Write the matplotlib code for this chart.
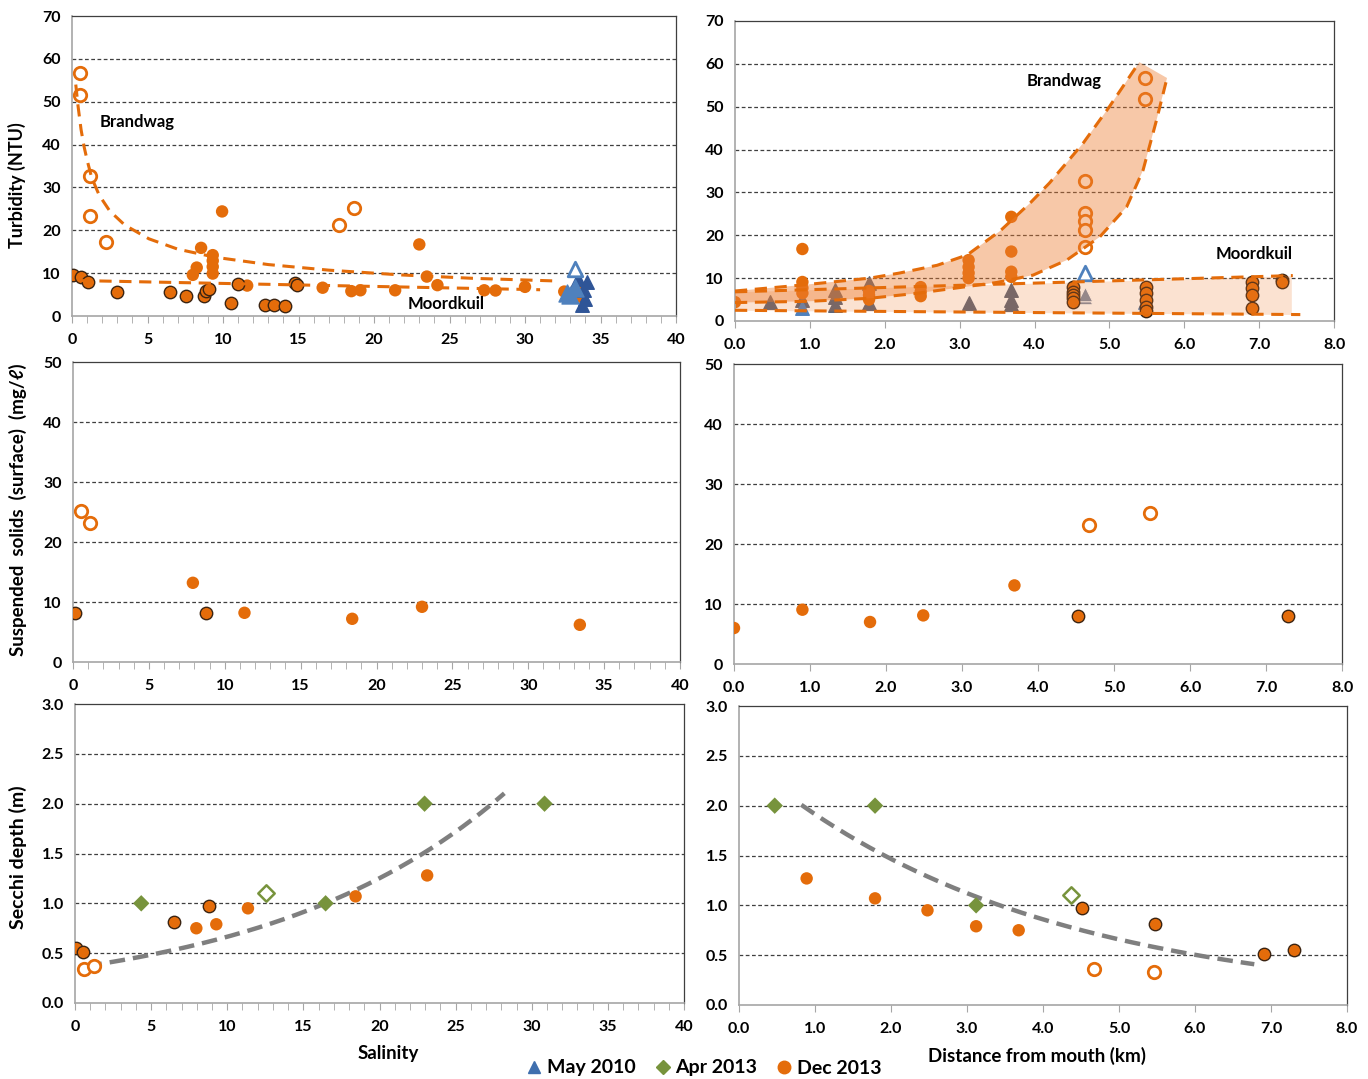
import matplotlib
matplotlib.use("Agg")
import matplotlib.pyplot as plt
import numpy as np
from matplotlib.lines import Line2D
from matplotlib.ticker import MultipleLocator

plt.rcParams['font.family'] = ['Lato', 'DejaVu Sans']
plt.rcParams['font.weight'] = 'bold'

# ---------------- colours ----------------
ORANGE = '#e46c0a'
FILL_OR = '#ed7d31'
EDGE_DARK = '#3b2412'
GREEN = '#77933c'
BLUE = '#4f81bd'
NAVY = '#2f5597'
SLATE = '#596275'
SLATE_LT = '#7d8aa3'
GREY = '#7f7f7f'

# ---------------- Turbidity vs salinity ----------------
tl_sal_open = [0.53, 0.53, 1.2, 1.2, 2.22, 17.7, 18.7]
tl_turb_open = [56.6, 51.5, 32.6, 23.3, 17.2, 21.2, 25.3]

tl_sal_fill = [9.94, 8.55, 9.32, 9.32, 9.32, 9.32, 8.26, 8.0, 11.6, 16.6, 18.5,
               19.1, 21.4, 23.0, 23.5, 24.2, 27.3, 28.05, 30.0, 32.6, 33.4, 33.7]
tl_turb_fill = [24.4, 15.9, 14.2, 12.9, 11.5, 9.9, 11.3, 9.6, 7.1, 6.6, 5.8,
                6.0, 6.0, 16.7, 9.2, 7.2, 6.0, 5.95, 6.8, 5.7, 6.1, 4.5]

tl_sal_edge = [0.09, 0.6, 1.04, 3.0, 6.48, 7.55, 8.75, 8.9, 9.08, 10.5, 11.0,
               12.76, 13.4, 14.1, 14.8, 14.9]
tl_turb_edge = [9.5, 9.2, 8.0, 5.6, 5.6, 4.6, 4.7, 5.9, 6.4, 3.0, 7.4,
                2.6, 2.6, 2.4, 7.6, 7.3]

tl_sal_tri_navy = [34.1, 33.9, 33.95, 33.8, 33.5]
tl_turb_tri_navy = [7.9, 6.0, 3.9, 2.6, 8.6]
tl_sal_tri_blue = [32.8, 33.3, 33.0]
tl_turb_tri_blue = [5.4, 6.5, 4.8]
tl_sal_tri_open = [33.3]
tl_turb_tri_open = [10.9]

# Brandwag trend (salinity, NTU) and Moordkuil linear trend y = c0 + c1*x
brandwag_sal = [0.25, 0.4, 0.6, 0.8, 1.0, 1.3, 1.8, 2.5, 3.5, 5.1, 7.0, 9.5,
                13.0, 17.0, 21.7, 26.5, 31.8]
brandwag_ntu = [54.0, 49.0, 43.5, 39.5, 36.4, 32.3, 28.2, 24.5, 21.2, 18.0, 15.6,
                13.7, 12.0, 10.7, 9.6, 8.8, 8.2]
moordkuil_c0, moordkuil_c1 = 8.3, -0.07
moordkuil_range = (0.5, 31.0)

# ---------------- Turbidity vs distance ----------------
tr_d_fill = [0.0, 0.9, 0.9, 0.9, 0.9, 1.79, 1.79, 1.79, 2.48, 2.48, 2.48,
             3.12, 3.12, 3.12, 3.12, 3.69, 3.69, 3.69, 3.69]
tr_v_fill = [4.4, 16.8, 9.1, 7.7, 6.5, 7.0, 6.0, 5.0, 7.9, 6.8, 5.8,
             14.2, 12.6, 11.2, 10.0, 24.3, 16.2, 11.5, 10.3]
tr_d_edge = [4.52] * 5 + [5.49] * 5 + [6.9] * 4 + [7.3] * 2
tr_v_edge = [8.0, 6.8, 6.1, 5.3, 4.5, 8.0, 6.5, 4.9, 3.3, 2.4,
             9.2, 7.6, 6.1, 3.0, 9.6, 9.1]
tr_d_open = [4.67] * 5 + [5.47] * 2
tr_v_open = [32.7, 25.2, 23.3, 21.3, 17.2, 56.7, 51.7]
tr_d_tri = [0.47, 0.9, 1.33, 1.33, 1.33, 1.79, 1.79, 3.12, 3.69, 3.69, 3.69]
tr_v_tri = [4.4, 4.9, 7.2, 5.6, 3.7, 8.9, 4.2, 4.1, 7.2, 4.9, 4.0]
tr_d_tri_blue = [0.9, 5.47]
tr_v_tri_blue = [3.0, 4.5]
tr_d_tri_lt = [4.67, 4.67]
tr_v_tri_lt = [5.7, 6.4]
tr_d_tri_open = [4.67]
tr_v_tri_open = [11.1]

# envelope outlines (distance km, turbidity NTU)
brandwag_upper_d = [0.0, 0.9, 1.8, 2.2, 2.7, 3.1, 3.54, 3.94, 4.2, 4.65, 5.0, 5.4]
brandwag_upper_v = [7.0, 8.4, 10.0, 11.2, 13.0, 15.4, 21.0, 27.5, 32.2, 41.5, 50.0, 60.4]
brandwag_lower_d = [0.0, 1.0, 1.8, 2.4, 3.0, 3.5, 3.98, 4.43, 4.87, 5.23, 5.45, 5.63, 5.77]
brandwag_lower_v = [4.3, 4.6, 5.3, 6.4, 7.8, 9.0, 10.7, 14.2, 19.6, 26.6, 35.2, 46.9, 56.7]
moordkuil_upper_d = [0.0, 7.45]
moordkuil_upper_v = [6.8, 10.6]
moordkuil_lower_d = [0.0, 7.55]
moordkuil_lower_v = [2.5, 1.5]
moordkuil_fill_end = 7.43

# ---------------- Suspended solids ----------------
ml_sal_fill = [7.9, 11.3, 18.4, 23.0, 33.4]
ml_ss_fill = [13.2, 8.2, 7.2, 9.2, 6.2]
ml_sal_edge = [0.12, 8.75]
ml_ss_edge = [8.2, 8.2]
ml_sal_open = [0.52, 1.13]
ml_ss_open = [25.1, 23.1]

mr_d_fill = [0.0, 0.9, 1.79, 2.49, 3.69]
mr_ss_fill = [6.0, 9.05, 7.0, 8.1, 13.1]
mr_d_edge = [4.52, 7.29]
mr_ss_edge = [8.0, 8.0]
mr_d_open = [4.67, 5.47]
mr_ss_open = [23.1, 25.1]

# ---------------- Secchi depth ----------------
bl_sal_fill = [7.97, 9.28, 11.36, 18.43, 23.13]
bl_sec_fill = [0.75, 0.79, 0.95, 1.07, 1.28]
bl_sal_edge = [0.09, 0.52, 6.52, 8.78]
bl_sec_edge = [0.55, 0.51, 0.81, 0.97]
bl_sal_open = [0.58, 1.22]
bl_sec_open = [0.34, 0.37]
bl_sal_dia = [4.35, 16.46, 22.96, 30.84]
bl_sec_dia = [1.0, 1.0, 2.0, 2.0]
bl_sal_dia_open = [12.52]
bl_sec_dia_open = [1.10]
secchi_sal_a, secchi_sal_b = 0.353, 0.0633
secchi_sal_range = (0.75, 28.2)

br_d_fill = [0.89, 1.79, 2.48, 3.12, 3.68]
br_sec_fill = [1.27, 1.07, 0.95, 0.79, 0.75]
br_d_edge = [4.51, 5.48, 6.91, 7.3]
br_sec_edge = [0.97, 0.81, 0.51, 0.55]
br_d_open = [4.67, 5.46]
br_sec_open = [0.36, 0.335]
br_d_dia = [0.47, 1.79, 3.12]
br_sec_dia = [2.0, 2.0, 1.0]
br_d_dia_open = [4.37]
br_sec_dia_open = [1.10]
secchi_dist_a, secchi_dist_b = 2.50, -0.267
secchi_dist_range = (0.82, 6.78)

legend_labels = ['May 2010', 'Apr 2013', 'Dec 2013']

# ---------------- figure ----------------
fig = plt.figure(figsize=(13.68, 10.79), dpi=100)
W, H = 1368.0, 1079.0
TICK_FS = 11.5


def add_axes(x0, x1, ytop, ybot):
    return fig.add_axes([x0 / W, 1 - ybot / H, (x1 - x0) / W, (ybot - ytop) / H])


def style(ax, xlim, xticks, xfmt, ylim, yticks, yfmt, minor=None):
    ax.set_xlim(*xlim)
    ax.set_ylim(*ylim)
    ax.set_xticks(xticks)
    ax.set_xticklabels([xfmt.format(t) for t in xticks], fontsize=TICK_FS, fontweight='bold')
    ax.set_yticks(yticks)
    ax.set_yticklabels([yfmt.format(t) for t in yticks], fontsize=TICK_FS, fontweight='bold')
    if minor:
        ax.xaxis.set_minor_locator(MultipleLocator(minor))
    ax.tick_params(axis='y', length=0, pad=8)
    ax.tick_params(axis='x', which='both', direction='out', length=5,
                   color='#a6a6a6', pad=7)
    for t in yticks[1:-1]:
        ax.axhline(t, color='#3f3f3f', lw=0.9, ls=(0, (3, 2)), zorder=0.5)
    for side in ('left', 'bottom'):
        ax.spines[side].set_color('#a6a6a6')
        ax.spines[side].set_linewidth(1.2)
    for side in ('top', 'right'):
        ax.spines[side].set_color('#3f3f3f')
        ax.spines[side].set_linewidth(0.9)


def circles(ax, x, y, kind):
    if kind == 'fill':
        ax.scatter(x, y, s=80, color=ORANGE, edgecolors='none', zorder=3)
    elif kind == 'edge':
        ax.scatter(x, y, s=80, color=ORANGE, edgecolors=EDGE_DARK, linewidths=1.0, zorder=3)
    else:
        ax.scatter(x, y, s=80, facecolors='white', edgecolors=ORANGE, linewidths=2.0, zorder=3)


def diamonds(ax, x, y, open_=False):
    if open_:
        ax.scatter(x, y, s=70, marker='D', facecolors='white', edgecolors=GREEN,
                   linewidths=1.8, zorder=3)
    else:
        ax.scatter(x, y, s=70, marker='D', color=GREEN, edgecolors='none', zorder=3)


dash_or = dict(color=ORANGE, lw=2.2, ls=(0, (4, 2.5)), zorder=4)

# ---- top-left: turbidity vs salinity ----
ax1 = add_axes(72, 676, 16, 316)
style(ax1, (0, 40), list(range(0, 41, 5)), '{:d}', (0, 70), list(range(0, 71, 10)), '{:d}', minor=1)
circles(ax1, tl_sal_fill, tl_turb_fill, 'fill')
circles(ax1, tl_sal_edge, tl_turb_edge, 'edge')
circles(ax1, tl_sal_open, tl_turb_open, 'open')
ax1.scatter(tl_sal_tri_navy, tl_turb_tri_navy, s=95, marker='^', color=NAVY, zorder=3)
ax1.scatter(tl_sal_tri_blue, tl_turb_tri_blue, s=150, marker='^', color=BLUE, zorder=3.2)
ax1.scatter(tl_sal_tri_open, tl_turb_tri_open, s=110, marker='^', facecolors='white',
            edgecolors=BLUE, linewidths=2, zorder=3.2)
ax1.plot(brandwag_sal, brandwag_ntu, **dash_or)
xm = np.linspace(*moordkuil_range, 2)
ax1.plot(xm, moordkuil_c0 + moordkuil_c1 * xm, **dash_or)
ax1.text(1.85, 45.3, 'Brandwag', fontsize=12, fontweight='bold', va='center')
ax1.text(22.2, 2.7, 'Moordkuil', fontsize=12, fontweight='bold', va='center')

# ---- top-right: turbidity vs distance ----
ax2 = add_axes(735, 1334, 21, 321)
style(ax2, (0, 8), list(range(0, 9)), '{:.1f}', (0, 70), list(range(0, 71, 10)), '{:d}')
ax2.scatter(tr_d_tri, tr_v_tri, s=95, marker='^', color=SLATE, zorder=2)
ax2.scatter(tr_d_tri_blue, tr_v_tri_blue, s=95, marker='^', color=BLUE, zorder=2)
ax2.scatter(tr_d_tri_lt, tr_v_tri_lt, s=110, marker='^', color=SLATE_LT,
            edgecolors='white', linewidths=0.8, zorder=2)
ax2.scatter(tr_d_tri_open, tr_v_tri_open, s=110, marker='^', facecolors='white',
            edgecolors=BLUE, linewidths=2, zorder=2)
circles(ax2, tr_d_fill, tr_v_fill, 'fill')
circles(ax2, tr_d_edge, tr_v_edge, 'edge')
circles(ax2, tr_d_open, tr_v_open, 'open')
for a in ax2.collections:
    a.set_zorder(2)

# Moordkuil envelope
dm = np.linspace(0, moordkuil_fill_end, 100)
mu = np.interp(dm, moordkuil_upper_d, moordkuil_upper_v)
ml = np.interp(dm, moordkuil_lower_d, moordkuil_lower_v)
ax2.fill_between(dm, ml, mu, color=FILL_OR, alpha=0.22, lw=0, zorder=2.5)
# Brandwag envelope
bx = brandwag_upper_d + brandwag_lower_d[::-1]
by = brandwag_upper_v + brandwag_lower_v[::-1]
ax2.fill(bx, by, color=FILL_OR, alpha=0.42, lw=0, zorder=2.6)

ax2.plot(brandwag_upper_d, brandwag_upper_v, **dash_or)
ax2.plot(brandwag_lower_d, brandwag_lower_v, **dash_or)
ax2.plot(moordkuil_upper_d, moordkuil_upper_v, **dash_or)
ax2.plot(moordkuil_lower_d, moordkuil_lower_v, **dash_or)
ax2.text(3.9, 56.0, 'Brandwag', fontsize=12, fontweight='bold', va='center')
ax2.text(6.42, 15.6, 'Moordkuil', fontsize=12, fontweight='bold', va='center')

# ---- middle-left: suspended solids vs salinity ----
ax3 = add_axes(73, 680, 362, 662)
style(ax3, (0, 40), list(range(0, 41, 5)), '{:d}', (0, 50), list(range(0, 51, 10)), '{:d}', minor=1)
circles(ax3, ml_sal_fill, ml_ss_fill, 'fill')
circles(ax3, ml_sal_edge, ml_ss_edge, 'edge')
circles(ax3, ml_sal_open, ml_ss_open, 'open')

# ---- middle-right: suspended solids vs distance ----
ax4 = add_axes(734, 1342, 364, 664)
style(ax4, (0, 8), list(range(0, 9)), '{:.1f}', (0, 50), list(range(0, 51, 10)), '{:d}')
circles(ax4, mr_d_fill, mr_ss_fill, 'fill')
circles(ax4, mr_d_edge, mr_ss_edge, 'edge')
circles(ax4, mr_d_open, mr_ss_open, 'open')

# ---- bottom-left: Secchi depth vs salinity ----
ax5 = add_axes(75, 684, 704, 1003)
style(ax5, (0, 40), list(range(0, 41, 5)), '{:d}', (0, 3), [0, 0.5, 1.0, 1.5, 2.0, 2.5, 3.0], '{:.1f}', minor=1)
xs = np.linspace(*secchi_sal_range, 200)
ax5.plot(xs, secchi_sal_a * np.exp(secchi_sal_b * xs), color=GREY, lw=3.2,
         ls=(0, (3.5, 1.8)), zorder=2)
circles(ax5, bl_sal_fill, bl_sec_fill, 'fill')
circles(ax5, bl_sal_edge, bl_sec_edge, 'edge')
circles(ax5, bl_sal_open, bl_sec_open, 'open')
diamonds(ax5, bl_sal_dia, bl_sec_dia)
diamonds(ax5, bl_sal_dia_open, bl_sec_dia_open, open_=True)

# ---- bottom-right: Secchi depth vs distance ----
ax6 = add_axes(739, 1347, 706, 1005)
style(ax6, (0, 8), list(range(0, 9)), '{:.1f}', (0, 3), [0, 0.5, 1.0, 1.5, 2.0, 2.5, 3.0], '{:.1f}')
xd = np.linspace(*secchi_dist_range, 200)
ax6.plot(xd, secchi_dist_a * np.exp(secchi_dist_b * xd), color=GREY, lw=3.2,
         ls=(0, (3.5, 1.8)), zorder=2)
circles(ax6, br_d_fill, br_sec_fill, 'fill')
circles(ax6, br_d_edge, br_sec_edge, 'edge')
circles(ax6, br_d_open, br_sec_open, 'open')
diamonds(ax6, br_d_dia, br_sec_dia)
diamonds(ax6, br_d_dia_open, br_sec_dia_open, open_=True)

# ---- axis titles ----
fig.text(17 / W, 1 - 185 / H, 'Turbidity (NTU)', rotation=90, ha='center', va='center',
         fontsize=13, fontweight='bold')
fig.text(18 / W, 1 - 510 / H, 'Suspended  solids  (surface)  (mg/ℓ)', rotation=90,
         ha='center', va='center', fontsize=13.5, fontweight='bold')
fig.text(18 / W, 1 - 857 / H, 'Secchi depth (m)', rotation=90, ha='center', va='center',
         fontsize=14, fontweight='bold')
fig.text(388 / W, 1 - 1054 / H, 'Salinity', ha='center', va='center', fontsize=13.5,
         fontweight='bold')
fig.text(1037 / W, 1 - 1056 / H, 'Distance from mouth (km)', ha='center', va='center',
         fontsize=13.5, fontweight='bold')

# ---- legend ----
handles = [
    Line2D([], [], ls='none', marker='^', color='#3f6fae', markersize=9),
    Line2D([], [], ls='none', marker='D', color=GREEN, markersize=7),
    Line2D([], [], ls='none', marker='o', color=ORANGE, markersize=9),
]
fig.legend(handles, legend_labels, loc='center', bbox_to_anchor=(704 / W, 1 - 1068 / H),
           ncol=3, frameon=False, prop={'size': 14, 'weight': 'bold'},
           handletextpad=0.25, columnspacing=1.0, handlelength=0.8)

fig.savefig('out.png', dpi=100)
